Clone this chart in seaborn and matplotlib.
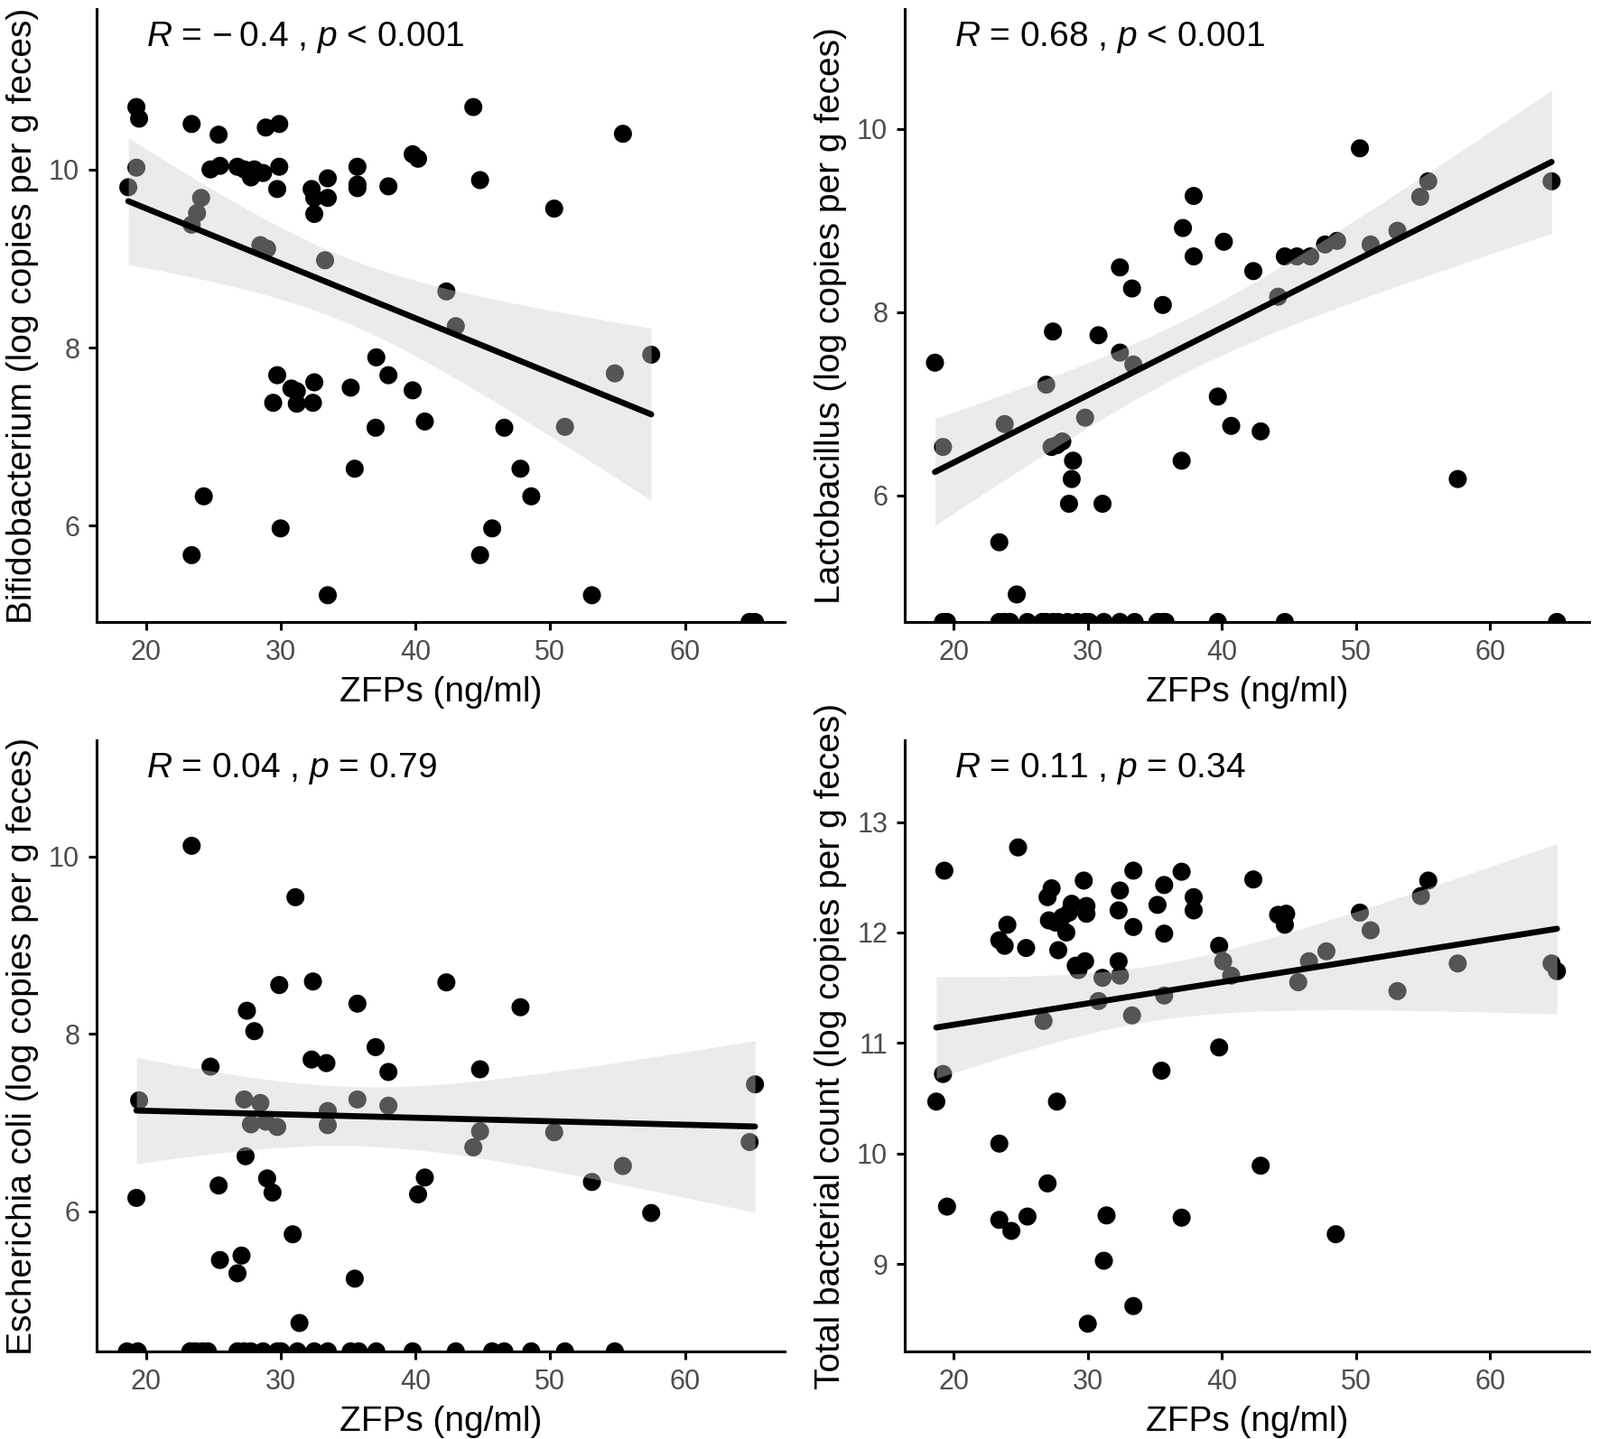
import numpy as np
import pandas as pd
import seaborn as sns
import matplotlib.pyplot as plt

# ZFPs (ng/ml) and log copies per g feces
bifido_zfp = [18.7, 19.3, 19.5, 19.3, 23.4, 24.1, 23.8, 23.4, 24.3, 23.4, 25.4, 24.8, 25.5, 26.8,
              27.3, 27.8, 28.05, 28.7, 28.9, 29.9, 29.9, 29.75, 28.5, 29.0, 29.75, 29.45, 30.8, 31.2,
              31.2, 32.4, 32.5, 30.0, 32.3, 32.5, 32.5, 33.5, 33.5, 33.3, 33.5, 35.7, 35.7, 35.7,
              35.2, 35.5, 38.0, 37.1, 38.0, 37.05, 39.8, 40.2, 39.8, 40.7, 44.3, 44.8, 42.3, 43.0,
              46.6, 47.8, 48.6, 45.7, 44.8, 50.3, 51.1, 53.1, 55.4, 54.8, 57.5, 64.8, 65.2]
bifido = [9.80, 10.70, 10.57, 10.02, 10.51, 9.68, 9.51, 9.38, 6.33, 5.67, 10.39, 10.0, 10.04, 10.03,
          10.0, 9.91, 10.0, 9.96, 10.47, 10.51, 10.03, 9.78, 9.15, 9.11, 7.69, 7.38, 7.54, 7.51,
          7.37, 7.38, 7.61, 5.97, 9.78, 9.68, 9.50, 9.90, 9.68, 8.98, 5.22, 10.03, 9.83, 9.79,
          7.55, 6.64, 9.81, 7.89, 7.69, 7.10, 10.17, 10.12, 7.52, 7.17, 10.70, 9.88, 8.63, 8.24,
          7.10, 6.64, 6.33, 5.97, 5.67, 9.56, 7.11, 5.22, 10.40, 7.71, 7.92, 4.92, 4.92]

lacto_zfp = [18.6, 19.2, 23.4, 23.8, 24.7, 26.9, 27.4, 27.3, 27.7, 28.1, 28.9, 28.8, 28.6, 29.8,
             30.8, 31.1, 32.4, 32.4, 33.3, 33.4, 35.6, 37.1, 37.9, 37.9, 37.0, 40.15, 39.7, 40.7,
             42.9, 42.35, 44.2, 44.7, 45.6, 46.6, 47.7, 48.6, 50.3, 51.1, 53.1, 54.8, 55.4, 57.6,
             64.6,
             19.2, 19.5, 23.4, 23.8, 24.2, 25.5, 26.6, 26.9, 27.4, 27.8, 28.5, 29.2, 29.8, 30.1,
             31.2, 32.4, 33.5, 35.2, 35.6, 35.8, 39.7, 44.7, 65.0]
lacto = [7.45, 6.53, 5.49, 6.78, 4.92, 7.21, 7.79, 6.53, 6.55, 6.59, 6.38, 6.18, 5.91, 6.85,
         7.75, 5.91, 8.49, 7.56, 8.26, 7.43, 8.08, 8.92, 9.27, 8.61, 6.38, 8.77, 7.08, 6.76,
         6.70, 8.45, 8.17, 8.61, 8.61, 8.61, 8.74, 8.78, 9.79, 8.74, 8.89, 9.26, 9.43, 6.18,
         9.43,
         4.62, 4.62, 4.62, 4.62, 4.62, 4.62, 4.62, 4.62, 4.62, 4.62, 4.62, 4.62, 4.62, 4.62,
         4.62, 4.62, 4.62, 4.62, 4.62, 4.62, 4.62, 4.62, 4.62]

ecoli_zfp = [19.3, 19.5, 23.4, 24.8, 25.4, 25.5, 26.8, 27.1, 27.5, 28.05, 27.3, 27.8, 28.5, 28.9,
             29.75, 27.4, 29.0, 29.4, 29.9, 30.9, 31.1, 31.4, 32.4, 32.3, 33.4, 33.5, 33.5, 35.7,
             35.7, 35.5, 37.05, 38.0, 38.0, 40.2, 40.7, 42.3, 44.3, 44.8, 44.8, 47.8, 50.3, 53.1,
             55.4, 57.5, 64.8, 65.2,
             18.6, 19.4, 23.3, 23.7, 24.2, 24.6, 26.8, 27.3, 27.8, 28.7, 29.75, 30.05, 31.25, 32.5,
             33.5, 35.2, 35.8, 37.1, 39.8, 43.0, 45.7, 46.6, 48.6, 51.1, 54.8]
ecoli = [6.15, 7.25, 10.12, 7.63, 6.29, 5.45, 5.30, 5.50, 8.26, 8.03, 7.26, 6.98, 7.22, 7.01,
         6.95, 6.62, 6.37, 6.21, 8.55, 5.74, 9.54, 4.74, 8.59, 7.71, 7.67, 7.13, 6.97, 8.34,
         7.26, 5.24, 7.85, 7.57, 7.19, 6.19, 6.38, 8.58, 6.72, 6.90, 7.60, 8.30, 6.89, 6.33,
         6.51, 5.98, 6.78, 7.43,
         4.42, 4.42, 4.42, 4.42, 4.42, 4.42, 4.42, 4.42, 4.42, 4.42, 4.42, 4.42, 4.42, 4.42,
         4.42, 4.42, 4.42, 4.42, 4.42, 4.42, 4.42, 4.42, 4.42, 4.42, 4.42]

total_zfp = [18.7, 19.2, 19.3, 19.5, 23.4, 23.8, 24.0, 23.4, 23.4, 24.3, 25.5, 24.8, 25.4, 26.7,
             27.0, 27.7, 27.0, 27.3, 27.1, 27.6, 27.8, 28.1, 28.4, 28.8, 28.6, 29.7, 29.9, 29.9,
             29.1, 29.3, 29.8, 31.1, 30.8, 32.3, 32.4, 32.4, 32.3, 33.4, 33.4, 33.3, 30.0, 31.2,
             31.4, 33.4, 35.2, 35.7, 35.7, 35.7, 35.5, 37.0, 37.9, 37.9, 37.0, 39.8, 40.1, 40.7,
             39.8, 42.35, 42.9, 44.2, 44.8, 44.7, 45.7, 46.5, 47.8, 48.5, 50.3, 51.1, 53.1, 54.85,
             55.4, 57.6, 64.6, 65.0]
total = [10.47, 10.72, 12.56, 9.52, 11.93, 11.88, 12.07, 10.09, 9.40, 9.30, 9.43, 12.77, 11.86, 11.20,
         9.73, 10.47, 12.32, 12.40, 12.11, 12.09, 11.84, 12.14, 12.00, 12.26, 12.18, 12.47, 12.24, 12.17,
         11.70, 11.66, 11.74, 11.59, 11.38, 11.74, 11.61, 12.38, 12.20, 12.56, 12.05, 11.25, 8.46, 9.03,
         9.44, 8.62, 12.25, 12.43, 11.99, 11.43, 10.75, 12.55, 12.32, 12.20, 9.42, 11.88, 11.74, 11.61,
         10.96, 12.48, 9.89, 12.16, 12.17, 12.07, 11.55, 11.74, 11.83, 9.27, 12.18, 12.02, 11.47, 12.33,
         12.47, 11.72, 11.72, 11.65]

# values sitting on the lower axis limit are left out of the fit
floors = {"bifido": 4.92, "lacto": 4.62, "ecoli": 4.42, "total": None}

ylabels = ["Bifidobacterium (log copies per g feces)",
           "Lactobacillus (log copies per g feces)",
           "Escherichia coli (log copies per g feces)",
           "Total bacterial count (log copies per g feces)"]
stat_labels = ["$R$ = \u2212\u20090.4 , $p$ < 0.001",
               "$R$ = 0.68 , $p$ < 0.001",
               "$R$ = 0.04 , $p$ = 0.79",
               "$R$ = 0.11 , $p$ = 0.34"]
ylims = [(4.92, 11.8), (4.62, 11.31), (4.42, 11.31), (8.21, 13.74)]
yticks = [[6, 8, 10], [6, 8, 10], [6, 8, 10], [9, 10, 11, 12, 13]]
xticks = [20, 30, 40, 50, 60]


def lm_band(x, y, n_grid=80):
    # 95% confidence band of a linear fit (like geom_smooth(method = "lm"))
    x = np.asarray(x, float)
    y = np.asarray(y, float)
    n = len(x)
    b1, b0 = np.polyfit(x, y, 1)
    resid = y - (b0 + b1 * x)
    s = np.sqrt(np.sum(resid ** 2) / (n - 2))
    sxx = np.sum((x - x.mean()) ** 2)
    df = n - 2
    z = 1.959964
    t = z + (z ** 3 + z) / (4 * df) + (5 * z ** 5 + 16 * z ** 3 + 3 * z) / (96 * df ** 2)
    grid = np.linspace(x.min(), x.max(), n_grid)
    se = s * np.sqrt(1 / n + (grid - x.mean()) ** 2 / sxx)
    fitted = b0 + b1 * grid
    return grid, fitted - t * se, fitted + t * se


sns.set_style("ticks")
plt.rcParams["font.family"] = ["Liberation Sans", "DejaVu Sans"]
plt.rcParams["mathtext.fontset"] = "custom"
plt.rcParams["mathtext.rm"] = "Liberation Sans"
plt.rcParams["mathtext.it"] = "Liberation Sans:italic"

fig = plt.figure(figsize=(8.86, 7.97), dpi=200)
positions = [[0.0604, 0.5678, 0.4300, 0.4259],
             [0.5655, 0.5678, 0.4277, 0.4259],
             [0.0604, 0.0609, 0.4300, 0.4247],
             [0.5655, 0.0609, 0.4277, 0.4247]]

panels = [(bifido_zfp, bifido, "bifido"), (lacto_zfp, lacto, "lacto"),
          (ecoli_zfp, ecoli, "ecoli"), (total_zfp, total, "total")]

for i, (zfp, vals, key) in enumerate(panels):
    ax = fig.add_axes(positions[i])
    df = pd.DataFrame({"zfp": zfp, "val": vals})
    sns.scatterplot(data=df, x="zfp", y="val", color="black", s=52,
                    edgecolor="none", linewidth=0, ax=ax)
    fit = df if floors[key] is None else df[df["val"] > floors[key] + 1e-9]
    gx, lo, hi = lm_band(fit["zfp"], fit["val"])
    ax.fill_between(gx, lo, hi, facecolor="#CFCFCF", alpha=0.41, linewidth=0)
    sns.regplot(data=fit, x="zfp", y="val", scatter=False, ci=None, color="black",
                line_kws={"linewidth": 2.4}, ax=ax)

    ax.set_xlim(16.35, 67.4)
    ax.set_ylim(*ylims[i])
    ax.set_xticks(xticks)
    ax.set_yticks(yticks[i])
    sns.despine(ax=ax)
    for side in ["left", "bottom"]:
        ax.spines[side].set_linewidth(1.1)
        ax.spines[side].set_color("black")
    ax.tick_params(direction="out", length=3.3, width=1.1, color="black",
                   labelcolor="#4D4D4D", labelsize=11)
    ax.set_xlabel("ZFPs (ng/ml)", fontsize=14, color="black")
    ax.set_ylabel(ylabels[i], fontsize=14, color="black", labelpad=4)
    ax.text(0.072, 0.953, stat_labels[i], transform=ax.transAxes,
            ha="left", va="center", fontsize=14, color="black")

plt.savefig("out.png", dpi=200)
